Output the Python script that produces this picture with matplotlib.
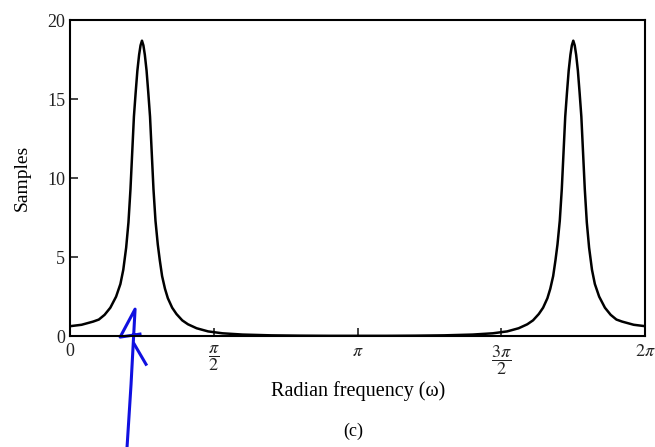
import numpy as np
import matplotlib
matplotlib.use('Agg')
import matplotlib.pyplot as plt

plt.rcParams['font.family'] = ['Liberation Serif', 'DejaVu Serif']
plt.rcParams['mathtext.fontset'] = 'stix'

# frequency in units of pi (first half; second half mirrors it)
w_half = [0.00, 0.04, 0.08, 0.10, 0.12, 0.14, 0.16, 0.175, 0.185, 0.195,
          0.203, 0.210, 0.216, 0.222, 0.228, 0.234, 0.240, 0.245, 0.250,
          0.255, 0.260, 0.266, 0.272, 0.278, 0.284, 0.290, 0.297, 0.305,
          0.312, 0.320, 0.330, 0.340, 0.355, 0.370, 0.39, 0.41, 0.44, 0.48,
          0.53, 0.60, 0.70, 0.80, 0.90, 1.00]
samples_half = [0.63, 0.72, 0.92, 1.05, 1.35, 1.8, 2.5, 3.3, 4.2, 5.6,
                7.2, 9.3, 11.6, 13.9, 15.4, 16.8, 17.8, 18.4, 18.7,
                18.4, 17.8, 16.8, 15.4, 13.9, 11.6, 9.3, 7.3, 5.8,
                4.8, 3.8, 3.0, 2.4, 1.8, 1.4, 1.0, 0.75, 0.5, 0.3,
                0.18, 0.1, 0.05, 0.03, 0.02, 0.02]

xtick_pos = [0, 0.5, 1, 1.5, 2]
xtick_labels = ['0', r'$\dfrac{\pi}{2}$', r'$\pi$', r'$\dfrac{3\pi}{2}$', r'$2\pi$']
ytick_pos = [0, 5, 10, 15, 20]

# hand-drawn blue arrow on the scan (in axis units)
pen_x = [0.198, 0.212, 0.226, 0.174, 0.243]
pen_y = [-7.05, -3.05, 1.71, -0.06, 0.13]
pen2_x = [0.223, 0.264]
pen2_y = [-0.5, -1.78]

w = np.array(w_half + [2 - v for v in w_half[::-1][1:]]) * np.pi
s = np.array(samples_half + samples_half[::-1][1:])

fig = plt.figure(figsize=(6.55, 4.47), dpi=100)
ax = fig.add_axes([0.107, 0.248, 0.878, 0.707])

ax.plot(w, s, color='black', lw=1.8)

ax.set_xlim(0, 2 * np.pi)
ax.set_ylim(0, 20)
ax.set_xticks(np.array(xtick_pos) * np.pi)
ax.set_xticklabels(xtick_labels, fontsize=14, va='top')
ax.set_yticks(ytick_pos)
ax.tick_params(direction='in', length=6, width=1.2, labelsize=13, colors='#222222')
ax.tick_params(axis='x', pad=5)
for sp in ax.spines.values():
    sp.set_linewidth(1.5)

ax.set_ylabel('Samples', fontsize=14, labelpad=12)
ax.set_xlabel('Radian frequency (\u03c9)', fontsize=14.5, labelpad=3)
fig.text(0.54, 0.025, '(c)', fontsize=13, ha='center')

ax.plot(np.array(pen_x) * np.pi, pen_y, color='#1010e0', lw=2.2, clip_on=False)
ax.plot(np.array(pen2_x) * np.pi, pen2_y, color='#1010e0', lw=2.2, clip_on=False)

fig.savefig('out.png', dpi=100)
